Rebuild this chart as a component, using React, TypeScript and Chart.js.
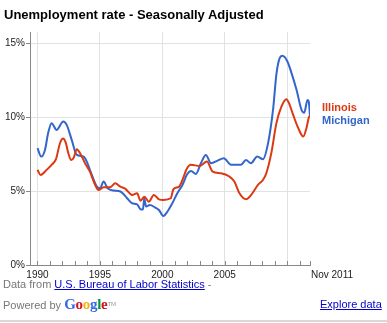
import React, { useEffect, useRef } from "react";
import { Chart, registerables } from "chart.js";

Chart.register(...registerables);

const seriesNames = ["Illinois", "Michigan"];
const seriesColors = ["#dc3912", "#3366cc"];

const ilYears = [1990.0, 1990.24, 1990.73, 1991.13, 1991.48, 1991.8, 1992.05, 1992.25, 1992.47, 1992.7, 1992.9, 1993.15, 1993.41, 1993.81, 1994.2, 1994.62, 1994.89, 1995.3, 1995.8, 1996.23, 1996.64, 1997.04, 1997.58, 1997.98, 1998.25, 1998.57, 1998.92, 1999.32, 1999.73, 2000.1, 2000.67, 2000.89, 2001.34, 2001.61, 2001.96, 2002.28, 2003.0, 2003.57, 2004.03, 2004.7, 2005.37, 2005.77, 2006.18, 2006.72, 2007.12, 2007.66, 2008.06, 2008.33, 2008.73, 2009.14, 2009.54, 2009.94, 2010.2, 2010.48, 2010.89, 2011.29, 2011.56, 2011.74, 2011.83];
const ilValues = [6.43, 6.09, 6.43, 6.77, 7.15, 8.23, 8.55, 8.3, 7.56, 7.1, 7.25, 7.83, 7.56, 6.88, 6.31, 5.41, 5.07, 5.25, 5.25, 5.52, 5.3, 5.15, 4.74, 4.85, 4.35, 4.62, 4.28, 4.74, 4.44, 4.4, 4.51, 5.12, 5.3, 5.75, 6.5, 6.77, 6.7, 6.99, 6.31, 6.2, 5.98, 5.64, 4.85, 4.44, 4.74, 5.41, 5.75, 6.2, 7.56, 9.59, 10.71, 11.21, 10.83, 10.15, 9.25, 8.68, 9.3, 9.98, 10.05];

const miYears = [1990.0, 1990.3, 1990.6, 1990.85, 1991.13, 1991.53, 1992.06, 1992.34, 1992.74, 1993.15, 1993.68, 1993.95, 1994.35, 1994.76, 1995.02, 1995.29, 1995.62, 1996.1, 1996.64, 1997.18, 1997.58, 1997.98, 1998.25, 1998.45, 1998.55, 1998.7, 1999.0, 1999.4, 1999.73, 2000.08, 2000.4, 2000.8, 2001.2, 2001.61, 2002.0, 2002.3, 2002.69, 2003.09, 2003.49, 2003.9, 2004.43, 2004.92, 2005.51, 2006.3, 2006.7, 2007.1, 2007.6, 2008.06, 2008.47, 2008.87, 2009.14, 2009.4, 2009.62, 2010.02, 2010.35, 2010.75, 2011.15, 2011.37, 2011.63, 2011.74, 2011.83];
const miValues = [7.9, 7.33, 7.78, 8.9, 9.59, 9.13, 9.7, 9.47, 8.46, 7.44, 7.33, 6.99, 6.09, 5.3, 5.19, 5.64, 5.19, 5.03, 4.97, 4.51, 4.17, 4.1, 3.77, 3.75, 4.5, 3.95, 4.06, 3.9, 3.72, 3.31, 3.6, 4.17, 4.85, 5.41, 6.15, 6.35, 6.15, 6.88, 7.44, 6.88, 7.06, 7.22, 6.77, 6.77, 7.1, 6.88, 7.33, 7.15, 8.23, 10.5, 12.9, 13.98, 14.14, 13.76, 12.97, 11.84, 10.49, 10.3, 11.16, 11.0, 10.0];

const yTickValues = [0, 5, 10, 15];
const xMajorYears = [1990, 1995, 2000, 2005, 2010];
const xLabelYears = [1990, 1995, 2000, 2005];
const xMinorYears = [1990, 1991, 1992, 1993, 1994, 1995, 1996, 1997, 1998, 1999, 2000, 2001, 2002, 2003, 2004, 2005, 2006, 2007, 2008, 2009, 2010, 2011, 2011.83];
const endLabel = "Nov 2011";
const titleText = "Unemployment rate - Seasonally Adjusted";

const FONT = "Arial, 'Liberation Sans', sans-serif";

export default function App() {
  const ref = useRef<HTMLCanvasElement | null>(null);

  useEffect(() => {
    document.body.style.margin = "0";
    const minorTicks = {
      id: "minorTicks",
      afterDraw(chart: any) {
        const { ctx, chartArea, scales } = chart;
        ctx.save();
        ctx.strokeStyle = "#888";
        ctx.lineWidth = 1;
        for (const y of xMinorYears) {
          const px = Math.round(scales.x.getPixelForValue(y)) + 0.5;
          ctx.beginPath();
          ctx.moveTo(px, chartArea.bottom);
          ctx.lineTo(px, chartArea.bottom - 4);
          ctx.stroke();
        }
        ctx.restore();
      },
    };

    const chart = new Chart(ref.current as HTMLCanvasElement, {
      type: "line",
      data: {
        datasets: [
          {
            label: seriesNames[0],
            data: ilYears.map((x, i) => ({ x, y: ilValues[i] })),
            borderColor: seriesColors[0],
            borderWidth: 2,
            pointRadius: 0,
            cubicInterpolationMode: "monotone",
            fill: false,
          },
          {
            label: seriesNames[1],
            data: miYears.map((x, i) => ({ x, y: miValues[i] })),
            borderColor: seriesColors[1],
            borderWidth: 2,
            pointRadius: 0,
            cubicInterpolationMode: "monotone",
            fill: false,
          },
        ],
      },
      options: {
        animation: false,
        responsive: false,
        maintainAspectRatio: false,
        layout: { padding: { left: 0, top: 32, right: 77, bottom: 38 } },
        plugins: { legend: { display: false }, tooltip: { enabled: false } },
        scales: {
          x: {
            type: "linear",
            min: 1989.4,
            max: 2011.83,
            afterFit: (s: any) => {
              s.height = 20;
            },
            afterBuildTicks: (s: any) => {
              s.ticks = xMajorYears.map((v) => ({ value: v }));
            },
            ticks: {
              autoSkip: false,
              maxRotation: 0,
              padding: 4,
              color: "#222",
              font: { family: FONT, size: 10 },
              callback: (v: any) => (xLabelYears.includes(Number(v)) ? String(v) : ""),
            },
            grid: { color: "#e2e2e2", drawTicks: false },
            border: { color: "#888" },
          },
          y: {
            min: 0,
            max: 15.75,
            afterFit: (s: any) => {
              s.width = 30;
            },
            afterBuildTicks: (s: any) => {
              s.ticks = yTickValues.map((v) => ({ value: v }));
            },
            ticks: {
              padding: 1,
              color: "#222",
              font: { family: FONT, size: 10 },
              callback: (v: any) => v + "%",
            },
            grid: {
              color: (c: any) => (c.tick && c.tick.value === 0 ? "transparent" : "#e2e2e2"),
              tickColor: "#888",
              tickLength: 4,
            },
            border: { color: "#888" },
          },
        },
      },
      plugins: [minorTicks],
    } as any);
    return () => chart.destroy();
  }, []);

  const abs = (o: any) => ({ position: "absolute", whiteSpace: "nowrap", fontFamily: FONT, ...o }) as React.CSSProperties;

  return (
    <div style={{ position: "relative", width: 387, height: 323, overflow: "hidden", background: "#fff" }}>
      <canvas ref={ref} width={387} height={323} style={{ position: "absolute", left: 0, top: 0, width: 387, height: 323 }} />
      <div style={abs({ left: 4, top: 7.3, fontSize: 13, lineHeight: "15px", fontWeight: "bold", color: "#000" })}>{titleText}</div>
      <div style={abs({ left: 322, top: 101.4, fontSize: 11, lineHeight: "13px", fontWeight: "bold", color: seriesColors[0] })}>{seriesNames[0]}</div>
      <div style={abs({ left: 322, top: 114.2, fontSize: 11, lineHeight: "13px", fontWeight: "bold", color: seriesColors[1] })}>{seriesNames[1]}</div>
      <div style={abs({ left: 311, top: 269.2, fontSize: 10, lineHeight: "12px", color: "#222" })}>{endLabel}</div>
      <div style={abs({ left: 3, top: 278.4, fontSize: 11, lineHeight: "13px", color: "#777" })}>
        Data from <a href="#" style={{ color: "#0000cc", textDecoration: "underline" }}>U.S. Bureau of Labor Statistics</a> -
      </div>
      <div style={abs({ left: 3, top: 298.4, fontSize: 11, lineHeight: "13px", color: "#777" })}>
        Powered by{" "}
        <span style={{ fontFamily: "'Liberation Serif', 'DejaVu Serif', serif", fontSize: 15, fontWeight: "bold", letterSpacing: "-0.3px" }}>
          <span style={{ color: "#3369e8" }}>G</span>
          <span style={{ color: "#d50f25" }}>o</span>
          <span style={{ color: "#eeb211" }}>o</span>
          <span style={{ color: "#3369e8" }}>g</span>
          <span style={{ color: "#009925" }}>l</span>
          <span style={{ color: "#d50f25" }}>e</span>
        </span>
        <span style={{ fontSize: 6, verticalAlign: "top", color: "#999" }}>TM</span>
      </div>
      <div style={abs({ left: 320, top: 298.4, fontSize: 11, lineHeight: "13px" })}>
        <a href="#" style={{ color: "#0000cc", textDecoration: "underline" }}>Explore data</a>
      </div>
      <div style={{ position: "absolute", left: 0, top: 320, width: 387, height: 2, background: "#d8d8d8" }} />
    </div>
  );
}
